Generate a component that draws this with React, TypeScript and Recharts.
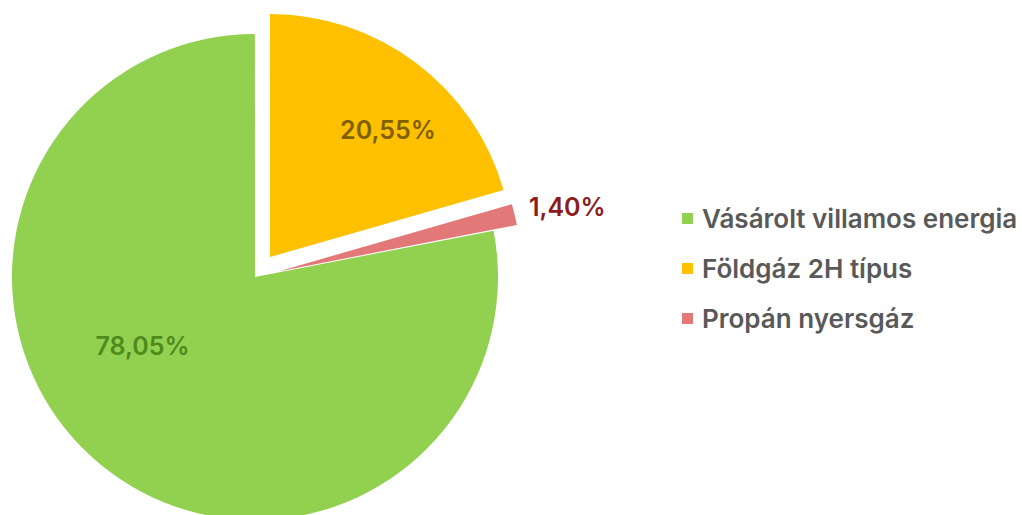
import * as React from "react";
import { PieChart, Pie, Cell, Sector, Legend } from "recharts";

const CATEGORIES = ["Vásárolt villamos energia", "Földgáz 2H típus", "Propán nyersgáz"];
const SHARES = [78.05, 20.55, 1.4];
const COLORS = ["#92d050", "#ffc000", "#e27878"];
const LABEL_COLORS = ["#4f8a1c", "#7f6000", "#8b1c1c"];
// explode distance per slice (px)
const EXPLODE = [0, 25, 24];
// label placement tweaks: angle shift (deg) and distance from slice centre (px)
const LABEL_SHIFT = [-19, -6, -1];
const LABEL_DIST = [132, 173, 296];

const RAD = Math.PI / 180;
const FONT = "Inter, 'Noto Sans', sans-serif";

const data = CATEGORIES.map((name, i) => ({ name, value: SHARES[i] }));

function offset(mid: number, d: number) {
  return { dx: d * Math.cos(-mid * RAD), dy: d * Math.sin(-mid * RAD) };
}

function ExplodedSlice(props: any) {
  const idx = data.findIndex((d) => d.name === props.name);
  const { dx, dy } = offset(props.midAngle, EXPLODE[idx] ?? 0);
  return <Sector {...props} cx={props.cx + dx} cy={props.cy + dy} stroke="none" />;
}

function SliceLabel(props: any) {
  const { cx, cy, midAngle, index } = props;
  const { dx, dy } = offset(midAngle, EXPLODE[index]);
  const a = midAngle + LABEL_SHIFT[index];
  const x = cx + dx + LABEL_DIST[index] * Math.cos(-a * RAD);
  const y = cy + dy + LABEL_DIST[index] * Math.sin(-a * RAD);
  return (
    <text
      x={x}
      y={y}
      textAnchor="middle"
      dominantBaseline="central"
      fill={LABEL_COLORS[index]}
      fontSize={25}
      fontWeight={600}
      fontFamily={FONT}
    >
      {SHARES[index].toFixed(2).replace(".", ",") + "%"}
    </text>
  );
}

function LegendBox() {
  return (
    <div style={{ fontFamily: FONT, fontSize: 26, fontWeight: 600, color: "#595959" }}>
      {CATEGORIES.map((c, i) => (
        <div key={c} style={{ display: "flex", alignItems: "center", height: 50 }}>
          <span
            style={{ width: 11, height: 11, background: COLORS[i], marginRight: 9, display: "inline-block" }}
          />
          <span>{c}</span>
        </div>
      ))}
    </div>
  );
}

export default function App() {
  return (
    <div style={{ position: "absolute", left: 0, top: 0, width: 1022, height: 515, background: "#fff" }}>
      <PieChart width={1022} height={515} margin={{ top: 0, right: 0, bottom: 0, left: 0 }}>
        <Pie
          data={data}
          dataKey="value"
          nameKey="name"
          cx={255}
          cy={277}
          outerRadius={243}
          startAngle={11}
          endAngle={-349}
          stroke="none"
          shape={ExplodedSlice}
          label={SliceLabel}
          labelLine={false}
          isAnimationActive={false}
        >
          {data.map((d, i) => (
            <Cell key={d.name} fill={COLORS[i]} />
          ))}
        </Pie>
        <Legend
          content={LegendBox}
          layout="vertical"
          wrapperStyle={{ position: "absolute", left: 682, top: 193, width: 340 }}
        />
      </PieChart>
    </div>
  );
}
